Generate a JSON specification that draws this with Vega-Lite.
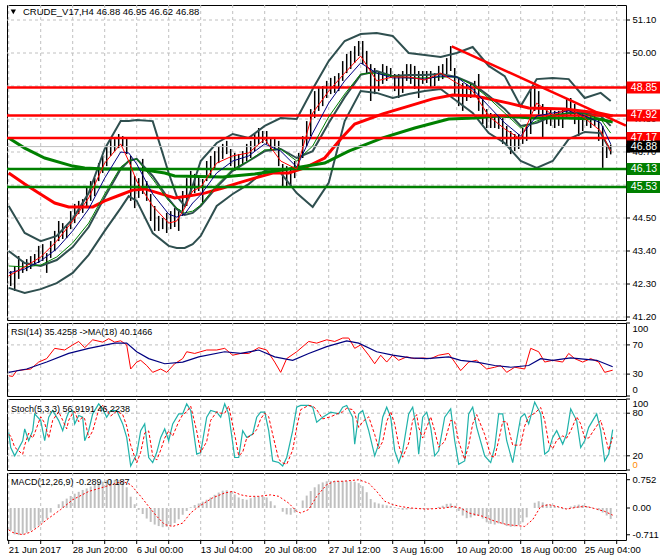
{
"$schema": "https://vega.github.io/schema/vega-lite/v6.json",
"padding": {"left": 2, "top": 4, "right": 2, "bottom": 2},
"background": "white",
"spacing": 3,
"bounds": "flush",
"config": {
  "view": {"stroke": "black", "strokeWidth": 1},
  "font": "Liberation Sans",
  "text": {"font": "Liberation Sans", "fontSize": 9}
},
"datasets": {
  "bars": [
{"b":1,"h":42.73,"l":42.23,"m":-0.6},{"b":3,"h":42.9,"l":42.07,"m":-0.7},{"b":5,"h":43.23,"l":42.47,"m":-0.72},{"b":7,"h":43.07,"l":42.67,"m":-0.7},{"b":9,"h":43.13,"l":42.73,"m":-0.66},{"b":11,"h":43.23,"l":42.8,"m":-0.6},{"b":13,"h":43.3,"l":42.9,"m":-0.54},{"b":15,"h":43.57,"l":43.0,"m":-0.47},{"b":17,"h":43.63,"l":43.07,"m":-0.38},{"b":19,"h":43.33,"l":42.67,"m":-0.28},
{"b":21,"h":43.73,"l":43.17,"m":-0.12},{"b":23,"h":44.07,"l":43.4,"m":0.0},{"b":25,"h":44.4,"l":43.73,"m":0.1},{"b":27,"h":44.33,"l":43.8,"m":0.18},{"b":29,"h":44.23,"l":43.83,"m":0.25},{"b":31,"h":44.73,"l":44.13,"m":0.32},{"b":33,"h":44.97,"l":44.33,"m":0.38},{"b":35,"h":45.07,"l":44.63,"m":0.43},{"b":37,"h":45.13,"l":44.67,"m":0.48},{"b":39,"h":45.57,"l":44.83,"m":0.52},
{"b":41,"h":45.73,"l":45.07,"m":0.57},{"b":43,"h":45.83,"l":45.23,"m":0.61},{"b":45,"h":46.33,"l":45.73,"m":0.65},{"b":47,"h":46.57,"l":46.0,"m":0.7},{"b":49,"h":46.9,"l":46.23,"m":0.74},{"b":51,"h":47.17,"l":46.57,"m":0.75},{"b":53,"h":47.13,"l":46.73,"m":0.75},{"b":55,"h":47.3,"l":46.83,"m":0.74},{"b":57,"h":47.23,"l":46.9,"m":0.71},{"b":59,"h":47.17,"l":46.63,"m":0.55},
{"b":61,"h":46.57,"l":45.07,"m":0.3},{"b":63,"h":45.9,"l":44.83,"m":0.1},{"b":65,"h":45.83,"l":45.17,"m":-0.05},{"b":67,"h":46.47,"l":45.3,"m":-0.16},{"b":69,"h":45.73,"l":45.07,"m":-0.28},{"b":71,"h":45.3,"l":44.4,"m":-0.37},{"b":73,"h":44.9,"l":44.07,"m":-0.44},{"b":75,"h":44.57,"l":44.07,"m":-0.48},{"b":77,"h":44.5,"l":44.13,"m":-0.51},{"b":79,"h":44.67,"l":44.0,"m":-0.5},
{"b":81,"h":44.73,"l":44.13,"m":-0.47},{"b":83,"h":44.83,"l":44.2,"m":-0.4},{"b":85,"h":44.8,"l":44.07,"m":-0.3},{"b":87,"h":45.4,"l":44.57,"m":-0.18},{"b":89,"h":45.83,"l":44.9,"m":-0.08},{"b":91,"h":46.07,"l":45.23,"m":0.02},{"b":93,"h":45.97,"l":45.33,"m":0.08},{"b":95,"h":45.9,"l":45.4,"m":0.12},{"b":97,"h":45.8,"l":44.97,"m":0.17},{"b":99,"h":46.4,"l":45.73,"m":0.22},
{"b":101,"h":46.57,"l":45.9,"m":0.28},{"b":103,"h":46.73,"l":46.13,"m":0.35},{"b":105,"h":46.87,"l":46.33,"m":0.41},{"b":107,"h":46.97,"l":46.47,"m":0.46},{"b":109,"h":47.07,"l":46.63,"m":0.47},{"b":111,"h":46.8,"l":46.23,"m":0.44},{"b":113,"h":46.67,"l":46.07,"m":0.36},{"b":115,"h":46.63,"l":46.17,"m":0.28},{"b":117,"h":46.73,"l":46.3,"m":0.24},{"b":119,"h":46.97,"l":46.4,"m":0.22},
{"b":121,"h":47.07,"l":46.5,"m":0.26},{"b":123,"h":47.3,"l":46.73,"m":0.3},{"b":125,"h":47.5,"l":46.97,"m":0.31},{"b":127,"h":47.4,"l":47.0,"m":0.31},{"b":129,"h":47.4,"l":46.97,"m":0.28},{"b":131,"h":47.17,"l":46.73,"m":0.18},{"b":133,"h":47.13,"l":46.8,"m":0.07},{"b":135,"h":47.07,"l":46.23,"m":0.0},{"b":137,"h":46.3,"l":45.5,"m":-0.1},{"b":139,"h":46.23,"l":45.57,"m":-0.17},
{"b":141,"h":46.17,"l":45.5,"m":-0.18},{"b":143,"h":46.4,"l":45.83,"m":-0.12},{"b":145,"h":46.67,"l":46.07,"m":0.0},{"b":147,"h":47.23,"l":46.5,"m":0.2},{"b":149,"h":47.73,"l":46.9,"m":0.33},{"b":151,"h":48.13,"l":47.23,"m":0.45},{"b":153,"h":48.73,"l":47.83,"m":0.55},{"b":155,"h":48.83,"l":48.07,"m":0.63},{"b":157,"h":48.9,"l":48.23,"m":0.68},{"b":159,"h":49.07,"l":48.5,"m":0.71},
{"b":161,"h":49.17,"l":48.63,"m":0.72},{"b":163,"h":49.23,"l":48.67,"m":0.72},{"b":165,"h":49.33,"l":48.73,"m":0.72},{"b":167,"h":49.73,"l":49.07,"m":0.72},{"b":169,"h":49.97,"l":49.33,"m":0.72},{"b":171,"h":50.07,"l":49.47,"m":0.71},{"b":173,"h":50.23,"l":49.67,"m":0.7},{"b":175,"h":50.4,"l":49.9,"m":0.66},{"b":177,"h":50.4,"l":49.63,"m":0.58},{"b":179,"h":50.07,"l":49.3,"m":0.42},
{"b":181,"h":49.63,"l":48.4,"m":0.24},{"b":183,"h":49.5,"l":48.63,"m":0.15},{"b":185,"h":49.4,"l":48.73,"m":0.12},{"b":187,"h":49.63,"l":48.97,"m":0.09},{"b":189,"h":49.57,"l":49.07,"m":0.07},{"b":191,"h":49.5,"l":49.17,"m":0.05},{"b":193,"h":49.3,"l":48.73,"m":0.02},{"b":195,"h":49.3,"l":48.5,"m":-0.02},{"b":197,"h":49.4,"l":48.67,"m":-0.05},{"b":199,"h":49.63,"l":49.07,"m":-0.04},
{"b":201,"h":49.63,"l":48.97,"m":-0.03},{"b":203,"h":49.57,"l":48.8,"m":-0.01},{"b":205,"h":49.4,"l":48.5,"m":0.0},{"b":207,"h":49.4,"l":48.97,"m":-0.02},{"b":209,"h":49.4,"l":49.0,"m":-0.03},{"b":211,"h":49.4,"l":48.83,"m":-0.02},{"b":213,"h":49.33,"l":48.9,"m":0.0},{"b":215,"h":49.57,"l":49.07,"m":0.03},{"b":217,"h":49.63,"l":49.13,"m":0.06},{"b":219,"h":49.83,"l":49.3,"m":0.11},
{"b":221,"h":50.23,"l":49.4,"m":0.12},{"b":223,"h":49.5,"l":48.63,"m":0.06},{"b":225,"h":49.13,"l":48.23,"m":-0.08},{"b":227,"h":49.0,"l":48.07,"m":-0.2},{"b":229,"h":48.97,"l":48.4,"m":-0.27},{"b":231,"h":49.0,"l":48.5,"m":-0.25},{"b":233,"h":49.07,"l":48.57,"m":-0.21},{"b":235,"h":49.3,"l":48.07,"m":-0.2},{"b":237,"h":48.5,"l":47.63,"m":-0.28},{"b":239,"h":48.13,"l":47.5,"m":-0.38},
{"b":241,"h":48.0,"l":47.5,"m":-0.42},{"b":243,"h":47.97,"l":47.5,"m":-0.44},{"b":245,"h":47.9,"l":47.47,"m":-0.41},{"b":247,"h":47.83,"l":46.97,"m":-0.43},{"b":249,"h":47.57,"l":46.9,"m":-0.48},{"b":251,"h":47.4,"l":46.63,"m":-0.5},{"b":253,"h":47.3,"l":46.73,"m":-0.49},{"b":255,"h":47.3,"l":46.8,"m":-0.46},{"b":257,"h":47.5,"l":46.97,"m":-0.38},{"b":259,"h":47.57,"l":47.07,"m":-0.25},
{"b":261,"h":48.83,"l":47.3,"m":0.0},{"b":263,"h":48.9,"l":48.07,"m":0.14},{"b":265,"h":48.73,"l":47.9,"m":0.18},{"b":267,"h":48.3,"l":47.17,"m":0.15},{"b":269,"h":48.17,"l":47.63,"m":0.1},{"b":271,"h":48.13,"l":47.57,"m":0.07},{"b":273,"h":48.07,"l":47.5,"m":0.05},{"b":275,"h":48.07,"l":47.57,"m":0.02},{"b":277,"h":48.13,"l":47.5,"m":-0.03},{"b":279,"h":48.5,"l":47.83,"m":-0.02},
{"b":281,"h":48.5,"l":47.9,"m":0.04},{"b":283,"h":48.3,"l":47.63,"m":0.07},{"b":285,"h":48.07,"l":47.23,"m":0.09},{"b":287,"h":48.0,"l":47.4,"m":0.08},{"b":289,"h":48.07,"l":47.57,"m":0.05},{"b":291,"h":48.0,"l":47.5,"m":0.02},{"b":293,"h":48.0,"l":47.57,"m":-0.01},{"b":295,"h":47.83,"l":47.07,"m":-0.06},{"b":297,"h":47.57,"l":46.17,"m":-0.12},{"b":299,"h":46.9,"l":46.5,"m":-0.2},
{"b":301,"h":46.95,"l":46.62,"m":-0.29}
  ],
  "lines": [
{"b":0,"u":44.9,"m":43.4,"lo":42.17,"r":42.57,"n":42.67,"g":42.9},
{"b":8,"u":44.0,"m":43.0,"lo":42.0,"r":42.87,"n":42.8,"g":42.87},
{"b":16,"u":43.73,"m":42.9,"lo":42.13,"r":43.2,"n":43.07,"g":42.93},
{"b":24,"u":43.9,"m":43.1,"lo":42.33,"r":43.73,"n":43.47,"g":43.2},
{"b":32,"u":44.47,"m":43.53,"lo":42.67,"r":44.4,"n":44.07,"g":43.67},
{"b":40,"u":45.33,"m":44.2,"lo":43.27,"r":45.17,"n":44.8,"g":44.33},
{"b":48,"u":46.8,"m":45.2,"lo":44.07,"r":46.33,"n":45.83,"g":45.3},
{"b":56,"u":47.73,"m":46.13,"lo":44.83,"r":46.97,"n":46.7,"g":46.2},
{"b":60,"u":47.73,"m":46.4,"lo":45.23,"r":46.4,"n":46.67,"g":46.4},
{"b":64,"u":47.77,"m":46.47,"lo":45.07,"r":45.73,"n":46.3,"g":46.47},
{"b":72,"u":47.73,"m":45.9,"lo":44.0,"r":44.9,"n":45.3,"g":45.8},
{"b":80,"u":46.0,"m":45.13,"lo":43.57,"r":44.33,"n":44.63,"g":45.07},
{"b":84,"u":45.23,"m":44.8,"lo":43.5,"r":44.4,"n":44.53,"g":44.83},
{"b":88,"u":44.9,"m":44.6,"lo":43.5,"r":44.83,"n":44.63,"g":44.67},
{"b":92,"u":45.57,"m":44.67,"lo":43.63,"r":45.4,"n":45.0,"g":44.73},
{"b":96,"u":46.4,"m":44.9,"lo":43.9,"r":45.53,"n":45.27,"g":44.93},
{"b":104,"u":47.0,"m":45.53,"lo":44.9,"r":46.33,"n":46.0,"g":45.6},
{"b":112,"u":47.3,"m":46.07,"lo":45.3,"r":46.57,"n":46.4,"g":46.13},
{"b":120,"u":47.17,"m":46.4,"lo":45.63,"r":46.67,"n":46.57,"g":46.4},
{"b":128,"u":47.57,"m":46.73,"lo":46.07,"r":47.13,"n":46.97,"g":46.77},
{"b":136,"u":47.83,"m":46.8,"lo":46.0,"r":46.4,"n":46.73,"g":46.8},
{"b":144,"u":47.8,"m":46.5,"lo":45.33,"r":46.13,"n":46.2,"g":46.4},
{"b":152,"u":48.8,"m":46.73,"lo":44.87,"r":48.0,"n":47.33,"g":46.9},
{"b":160,"u":49.73,"m":47.67,"lo":45.67,"r":48.73,"n":48.33,"g":47.87},
{"b":168,"u":50.4,"m":48.53,"lo":47.73,"r":49.33,"n":49.07,"g":48.63},
{"b":176,"u":50.63,"m":49.27,"lo":48.73,"r":49.9,"n":49.67,"g":49.3},
{"b":184,"u":50.67,"m":49.4,"lo":48.67,"r":49.07,"n":49.33,"g":49.33},
{"b":192,"u":50.57,"m":49.23,"lo":48.5,"r":49.2,"n":49.17,"g":49.23},
{"b":200,"u":50.0,"m":49.27,"lo":48.63,"r":49.2,"n":49.17,"g":49.17},
{"b":208,"u":49.93,"m":49.27,"lo":48.73,"r":49.1,"n":49.13,"g":49.17},
{"b":216,"u":49.87,"m":49.3,"lo":48.8,"r":49.33,"n":49.23,"g":49.2},
{"b":224,"u":50.0,"m":49.2,"lo":48.4,"r":49.0,"n":49.2,"g":49.2},
{"b":232,"u":50.2,"m":48.97,"lo":48.0,"r":48.73,"n":48.8,"g":48.93},
{"b":240,"u":49.57,"m":48.57,"lo":47.33,"r":47.9,"n":48.23,"g":48.5},
{"b":248,"u":49.23,"m":48.13,"lo":47.0,"r":47.47,"n":47.67,"g":48.0},
{"b":256,"u":48.23,"m":47.57,"lo":46.4,"r":47.13,"n":47.23,"g":47.5},
{"b":264,"u":49.13,"m":47.67,"lo":46.17,"r":48.33,"n":47.9,"g":47.73},
{"b":272,"u":49.17,"m":47.9,"lo":46.4,"r":47.93,"n":48.0,"g":47.93},
{"b":280,"u":49.13,"m":48.0,"lo":47.13,"r":48.13,"n":48.07,"g":48.0},
{"b":288,"u":48.5,"m":48.0,"lo":47.37,"r":47.83,"n":47.9,"g":47.97},
{"b":296,"u":48.67,"m":47.9,"lo":47.33,"r":47.4,"n":47.67,"g":47.8},
{"b":301,"u":48.4,"m":47.57,"lo":46.73,"r":46.73,"n":46.97,"g":47.33}
  ],
  "redma": [
{"b":0,"p":46.0},{"b":8,"p":45.63},{"b":15,"p":45.33},{"b":23,"p":45.0},{"b":30,"p":44.87},{"b":42,"p":44.87},{"b":48,"p":45.07},{"b":57,"p":45.3},{"b":62,"p":45.43},{"b":68,"p":45.47},{"b":75,"p":45.33},{"b":83,"p":45.17},{"b":90,"p":45.23},{"b":98,"p":45.33},{"b":107,"p":45.5},{"b":115,"p":45.67},{"b":123,"p":45.83},{"b":132,"p":46.0},{"b":140,"p":46.0},{"b":148,"p":46.17},{"b":158,"p":46.5},{"b":166,"p":47.13},{"b":173,"p":47.63},{"b":187,"p":47.97},{"b":200,"p":48.23},{"b":212,"p":48.47},{"b":222,"p":48.6},{"b":233,"p":48.57},{"b":238,"p":48.5},{"b":250,"p":48.33},{"b":260,"p":48.17},{"b":278,"p":48.13},{"b":295,"p":48.0},{"b":302,"p":47.9}
  ],
  "greenma": [
{"b":0,"p":47.17},{"b":8,"p":46.83},{"b":18,"p":46.5},{"b":32,"p":46.23},{"b":38,"p":46.17},{"b":48,"p":46.13},{"b":65,"p":46.13},{"b":78,"p":46.0},{"b":83,"p":45.9},{"b":107,"p":45.87},{"b":123,"p":45.97},{"b":140,"p":46.13},{"b":158,"p":46.33},{"b":170,"p":46.73},{"b":187,"p":47.17},{"b":203,"p":47.5},{"b":220,"p":47.8},{"b":233,"p":47.83},{"b":245,"p":47.9},{"b":262,"p":47.83},{"b":278,"p":47.83},{"b":295,"p":47.8},{"b":302,"p":47.7}
  ],
  "hlines": [
{"p":48.85,"kind":"res"},{"p":47.92,"kind":"res"},{"p":47.17,"kind":"res"},{"p":46.13,"kind":"sup"},{"p":45.53,"kind":"sup"}
  ],
  "boxes": [
{"p":48.85,"kind":"res"},{"p":47.92,"kind":"res"},{"p":47.17,"kind":"res"},{"p":46.13,"kind":"sup"},{"p":45.53,"kind":"sup"},{"p":46.88,"kind":"cur"}
  ],
  "pticks": [{"v":41.2},{"v":42.3},{"v":43.4},{"v":44.5},{"v":45.6},{"v":46.7},{"v":47.8},{"v":48.9},{"v":50.0},{"v":51.1}],
  "plabels": [{"v":41.2},{"v":42.3},{"v":43.4},{"v":44.5},{"v":46.7},{"v":47.8},{"v":50.0},{"v":51.1}],
  "tgrid": [{"b":0},{"b":16},{"b":32},{"b":48},{"b":64},{"b":80},{"b":96},{"b":112},{"b":128},{"b":144},{"b":160},{"b":176},{"b":192},{"b":208},{"b":224},{"b":240},{"b":256},{"b":272},{"b":288},{"b":304}],
  "tlabels": [{"b":0,"t":"21 Jun 2017"},{"b":32,"t":"28 Jun 20:00"},{"b":64,"t":"6 Jul 00:00"},{"b":96,"t":"13 Jul 04:00"},{"b":128,"t":"20 Jul 08:00"},{"b":160,"t":"27 Jul 12:00"},{"b":192,"t":"3 Aug 16:00"},{"b":224,"t":"10 Aug 20:00"},{"b":256,"t":"18 Aug 00:00"},{"b":288,"t":"25 Aug 04:00"}],
  "trend": [{"b":221.5,"p":50.22},{"b":308.6,"p":47.58}],
  "rsi": [
{"b":0,"v":27.7},{"b":2,"v":26.8},{"b":4,"v":34.8},{"b":11,"v":37},{"b":15,"v":46.5},{"b":19,"v":51.2},{"b":23,"v":65.3},{"b":28,"v":63},{"b":32,"v":70},{"b":35,"v":74.7},{"b":38,"v":66.2},{"b":42,"v":77},{"b":47,"v":73.8},{"b":50,"v":78.5},{"b":53,"v":73.8},{"b":56,"v":75.6},{"b":59,"v":70},{"b":61,"v":37},{"b":64,"v":46.5},{"b":66,"v":48.9},{"b":69,"v":41.8},{"b":72,"v":32.4},{"b":76,"v":37},{"b":79,"v":32.4},{"b":83,"v":44.2},{"b":87,"v":51.2},{"b":89,"v":60.6},{"b":93,"v":58.3},{"b":99,"v":63},{"b":104,"v":63},{"b":108,"v":65.3},{"b":112,"v":55.9},{"b":116,"v":58.3},{"b":120,"v":58.3},{"b":125,"v":66.2},{"b":129,"v":63},{"b":133,"v":46.5},{"b":136,"v":32.4},{"b":139,"v":51.2},{"b":144,"v":60.6},{"b":150,"v":74.7},{"b":154,"v":72.4},{"b":159,"v":77},{"b":163,"v":74.7},{"b":167,"v":79.4},{"b":170,"v":79.4},{"b":173,"v":65.3},{"b":176,"v":70},{"b":180,"v":55.9},{"b":183,"v":44.2},{"b":186,"v":55.9},{"b":189,"v":46.5},{"b":192,"v":55.9},{"b":195,"v":48.9},{"b":199,"v":53.6},{"b":203,"v":51.2},{"b":207,"v":52.1},{"b":211,"v":51.2},{"b":215,"v":55.9},{"b":220,"v":58.3},{"b":223,"v":46.5},{"b":226,"v":34.8},{"b":230,"v":46.5},{"b":234,"v":48.9},{"b":239,"v":37},{"b":243,"v":39.4},{"b":246,"v":41.8},{"b":249,"v":32.4},{"b":253,"v":39.4},{"b":258,"v":37},{"b":261,"v":65.3},{"b":265,"v":60.6},{"b":268,"v":46.5},{"b":272,"v":48.9},{"b":277,"v":46.5},{"b":280,"v":58.3},{"b":283,"v":51.2},{"b":287,"v":46.5},{"b":291,"v":51.2},{"b":295,"v":46.5},{"b":298,"v":32.4},{"b":302,"v":35.4}
  ],
  "rsima": [
{"b":0,"v":32.4},{"b":9,"v":37},{"b":19,"v":46.5},{"b":30,"v":58.3},{"b":40,"v":65.3},{"b":53,"v":72.4},{"b":59,"v":72.4},{"b":64,"v":60.6},{"b":70,"v":51.2},{"b":78,"v":44.2},{"b":87,"v":46.5},{"b":95,"v":53.6},{"b":108,"v":60.6},{"b":116,"v":58.3},{"b":125,"v":63},{"b":133,"v":53.6},{"b":142,"v":48.9},{"b":150,"v":58.3},{"b":159,"v":67.6},{"b":169,"v":75.6},{"b":175,"v":72.4},{"b":184,"v":60.6},{"b":192,"v":55.9},{"b":201,"v":52.1},{"b":209,"v":51.2},{"b":220,"v":53.6},{"b":226,"v":48.9},{"b":234,"v":46.5},{"b":243,"v":41.8},{"b":251,"v":39.4},{"b":260,"v":41.8},{"b":266,"v":51.2},{"b":272,"v":48.9},{"b":281,"v":52.1},{"b":294,"v":48.9},{"b":302,"v":40.1}
  ],
  "stoch": [
{"b":0,"k":53.0,"d":50},{"b":1,"k":31.7,"d":48},{"b":3,"k":19.9,"d":32},{"b":7,"k":41.2,"d":22},{"b":8,"k":57.8,"d":35},{"b":10,"k":41.2,"d":52},{"b":12,"k":55.4,"d":45},{"b":13,"k":79.1,"d":52},{"b":16,"k":69.6,"d":75},{"b":18,"k":41.2,"d":66},{"b":20,"k":74.3,"d":45},{"b":22,"k":83.8,"d":70},{"b":25,"k":69.6,"d":82},{"b":27,"k":55.4,"d":70},{"b":29,"k":74.3,"d":58},{"b":30,"k":81.4,"d":70},{"b":32,"k":83.8,"d":80},{"b":33,"k":64.9,"d":82},{"b":35,"k":76.7,"d":68},{"b":37,"k":74.3,"d":75},{"b":38,"k":41.2,"d":72},{"b":40,"k":55.4,"d":45},{"b":42,"k":79.1,"d":55},{"b":45,"k":93.2,"d":85},{"b":47,"k":86.1,"d":91},{"b":49,"k":74.3,"d":84},{"b":51,"k":83.8,"d":76},{"b":54,"k":83.8,"d":83},{"b":57,"k":64.9,"d":78},{"b":59,"k":45.9,"d":62},{"b":61,"k":5.7,"d":35},{"b":64,"k":22.3,"d":10},{"b":66,"k":55.4,"d":25},{"b":68,"k":64.9,"d":52},{"b":70,"k":17.6,"d":55},{"b":72,"k":10.5,"d":20},{"b":74,"k":24.6,"d":14},{"b":76,"k":45.9,"d":28},{"b":78,"k":57.8,"d":45},{"b":80,"k":41.2,"d":55},{"b":82,"k":64.9,"d":48},{"b":85,"k":79.1,"d":68},{"b":87,"k":79.1,"d":78},{"b":89,"k":93.2,"d":82},{"b":91,"k":83.8,"d":90},{"b":94,"k":22.3,"d":55},{"b":96,"k":24.6,"d":25},{"b":99,"k":74.3,"d":40},{"b":101,"k":83.8,"d":70},{"b":104,"k":81.4,"d":82},{"b":106,"k":74.3,"d":80},{"b":108,"k":93.2,"d":80},{"b":110,"k":79.1,"d":90},{"b":113,"k":17.6,"d":50},{"b":115,"k":17.6,"d":20},{"b":117,"k":55.4,"d":25},{"b":119,"k":45.9,"d":45},{"b":122,"k":50.7,"d":50},{"b":124,"k":74.3,"d":57},{"b":126,"k":81.4,"d":72},{"b":128,"k":81.4,"d":80},{"b":130,"k":55.4,"d":75},{"b":132,"k":12.8,"d":50},{"b":135,"k":10.5,"d":15},{"b":137,"k":5.7,"d":10},{"b":139,"k":17.6,"d":8},{"b":142,"k":55.4,"d":28},{"b":144,"k":88.5,"d":60},{"b":146,"k":90.9,"d":85},{"b":150,"k":90.9,"d":91},{"b":152,"k":88.5,"d":90},{"b":154,"k":67.2,"d":85},{"b":157,"k":74.3,"d":72},{"b":161,"k":81.4,"d":75},{"b":165,"k":79.1,"d":80},{"b":167,"k":88.5,"d":82},{"b":169,"k":90.9,"d":87},{"b":172,"k":74.3,"d":85},{"b":173,"k":36.5,"d":80},{"b":175,"k":79.1,"d":60},{"b":177,"k":83.8,"d":68},{"b":180,"k":55.4,"d":75},{"b":183,"k":19.9,"d":50},{"b":185,"k":36.5,"d":30},{"b":187,"k":74.3,"d":40},{"b":189,"k":88.5,"d":68},{"b":191,"k":74.3,"d":82},{"b":193,"k":27.0,"d":65},{"b":195,"k":10.5,"d":35},{"b":197,"k":27.0,"d":18},{"b":200,"k":79.1,"d":38},{"b":202,"k":88.5,"d":70},{"b":204,"k":55.4,"d":78},{"b":205,"k":22.3,"d":60},{"b":207,"k":74.3,"d":45},{"b":209,"k":81.4,"d":60},{"b":211,"k":60.1,"d":75},{"b":213,"k":19.9,"d":55},{"b":215,"k":27.0,"d":32},{"b":218,"k":74.3,"d":40},{"b":221,"k":86.1,"d":70},{"b":223,"k":41.2,"d":68},{"b":225,"k":8.1,"d":40},{"b":228,"k":12.8,"d":15},{"b":230,"k":79.1,"d":35},{"b":232,"k":88.5,"d":65},{"b":234,"k":60.1,"d":78},{"b":238,"k":19.9,"d":50},{"b":241,"k":10.5,"d":20},{"b":243,"k":31.7,"d":18},{"b":245,"k":79.1,"d":42},{"b":247,"k":79.1,"d":68},{"b":249,"k":41.2,"d":68},{"b":252,"k":10.5,"d":35},{"b":256,"k":74.3,"d":35},{"b":258,"k":79.1,"d":62},{"b":260,"k":64.9,"d":75},{"b":263,"k":95.6,"d":80},{"b":266,"k":79.1,"d":88},{"b":268,"k":22.3,"d":70},{"b":270,"k":27.0,"d":38},{"b":272,"k":45.9,"d":30},{"b":274,"k":55.4,"d":42},{"b":277,"k":36.5,"d":48},{"b":279,"k":50.7,"d":45},{"b":281,"k":86.1,"d":55},{"b":284,"k":69.6,"d":75},{"b":286,"k":31.7,"d":65},{"b":288,"k":41.2,"d":45},{"b":290,"k":60.1,"d":45},{"b":294,"k":79.1,"d":62},{"b":296,"k":55.4,"d":70},{"b":298,"k":12.8,"d":50},{"b":300,"k":22.3,"d":28},{"b":302,"k":56.9,"d":46.2}
  ],
  "signal": [
{"b":0,"v":-0.58},{"b":2,"v":-0.65},{"b":7,"v":-0.71},{"b":11,"v":-0.64},{"b":15,"v":-0.49},{"b":19,"v":-0.31},{"b":26,"v":-0.04},{"b":32,"v":0.22},{"b":40,"v":0.44},{"b":49,"v":0.58},{"b":57,"v":0.71},{"b":61,"v":0.62},{"b":66,"v":0.31},{"b":70,"v":0.04},{"b":74,"v":-0.22},{"b":78,"v":-0.44},{"b":82,"v":-0.49},{"b":87,"v":-0.4},{"b":91,"v":-0.13},{"b":95,"v":0.04},{"b":102,"v":0.27},{"b":108,"v":0.4},{"b":112,"v":0.44},{"b":116,"v":0.35},{"b":120,"v":0.31},{"b":125,"v":0.31},{"b":131,"v":0.35},{"b":135,"v":0.31},{"b":140,"v":0.13},{"b":144,"v":-0.09},{"b":146,"v":-0.13},{"b":150,"v":-0.04},{"b":154,"v":0.31},{"b":159,"v":0.62},{"b":163,"v":0.71},{"b":167,"v":0.71},{"b":175,"v":0.75},{"b":180,"v":0.66},{"b":184,"v":0.44},{"b":188,"v":0.18},{"b":192,"v":0.09},{"b":196,"v":0.04},{"b":201,"v":0.0},{"b":209,"v":-0.03},{"b":218,"v":0.0},{"b":222,"v":0.04},{"b":226,"v":0.0},{"b":230,"v":-0.13},{"b":237,"v":-0.22},{"b":243,"v":-0.35},{"b":249,"v":-0.44},{"b":258,"v":-0.49},{"b":262,"v":-0.31},{"b":266,"v":0.04},{"b":270,"v":0.09},{"b":275,"v":0.03},{"b":279,"v":-0.03},{"b":285,"v":0.03},{"b":289,"v":0.04},{"b":294,"v":-0.03},{"b":298,"v":-0.09},{"b":302,"v":-0.19}
  ]
},
"vconcat": [
{
  "width": 619, "height": 315,
  "layer": [
    {"data": {"name": "pticks"}, "mark": {"type": "rule", "color": "#C0C0C0", "strokeDash": [3, 3], "strokeWidth": 1},
     "encoding": {"y": {"field": "v", "type": "quantitative", "scale": {"domain": [41.1, 51.6], "nice": false, "zero": false}, "axis": null}}},
    {"data": {"name": "tgrid"}, "mark": {"type": "rule", "color": "#C0C0C0", "strokeDash": [3, 3], "strokeWidth": 1},
     "encoding": {"x": {"field": "b", "type": "quantitative", "scale": {"domain": [-0.85, 308.65], "nice": false, "zero": false}, "axis": null}}},
    {"data": {"name": "bars"}, "mark": {"type": "rule", "color": "black", "strokeWidth": 1.5},
     "encoding": {
       "x": {"field": "b", "type": "quantitative", "scale": {"domain": [-0.85, 308.65], "nice": false, "zero": false}, "axis": null},
       "y": {"field": "l", "type": "quantitative", "scale": {"domain": [41.1, 51.6], "nice": false, "zero": false}, "axis": null},
       "y2": {"field": "h"}
     }},
    {"data": {"name": "lines"}, "mark": {"type": "line", "color": "#2F4F4F", "strokeWidth": 2},
     "encoding": {"x": {"field": "b", "type": "quantitative", "scale": {"domain": [-0.85, 308.65], "nice": false, "zero": false}, "axis": null},
                  "y": {"field": "u", "type": "quantitative", "scale": {"domain": [41.1, 51.6], "nice": false, "zero": false}, "axis": null}}},
    {"data": {"name": "lines"}, "mark": {"type": "line", "color": "#2F4F4F", "strokeWidth": 2},
     "encoding": {"x": {"field": "b", "type": "quantitative", "scale": {"domain": [-0.85, 308.65], "nice": false, "zero": false}, "axis": null},
                  "y": {"field": "m", "type": "quantitative", "scale": {"domain": [41.1, 51.6], "nice": false, "zero": false}, "axis": null}}},
    {"data": {"name": "lines"}, "mark": {"type": "line", "color": "#2F4F4F", "strokeWidth": 2},
     "encoding": {"x": {"field": "b", "type": "quantitative", "scale": {"domain": [-0.85, 308.65], "nice": false, "zero": false}, "axis": null},
                  "y": {"field": "lo", "type": "quantitative", "scale": {"domain": [41.1, 51.6], "nice": false, "zero": false}, "axis": null}}},
    {"data": {"name": "redma"}, "mark": {"type": "line", "color": "#FF0000", "strokeWidth": 3},
     "encoding": {"x": {"field": "b", "type": "quantitative", "scale": {"domain": [-0.85, 308.65], "nice": false, "zero": false}, "axis": null},
                  "y": {"field": "p", "type": "quantitative", "scale": {"domain": [41.1, 51.6], "nice": false, "zero": false}, "axis": null}}},
    {"data": {"name": "greenma"}, "mark": {"type": "line", "color": "#008000", "strokeWidth": 3},
     "encoding": {"x": {"field": "b", "type": "quantitative", "scale": {"domain": [-0.85, 308.65], "nice": false, "zero": false}, "axis": null},
                  "y": {"field": "p", "type": "quantitative", "scale": {"domain": [41.1, 51.6], "nice": false, "zero": false}, "axis": null}}},
    {"data": {"name": "hlines"}, "mark": {"type": "rule", "strokeWidth": 2.5},
     "encoding": {"y": {"field": "p", "type": "quantitative", "scale": {"domain": [41.1, 51.6], "nice": false, "zero": false}, "axis": null},
                  "color": {"field": "kind", "type": "nominal", "scale": {"domain": ["res","sup","cur"], "range": ["#FF0000","#008000","#000000"]}, "legend": null}}},
    {"data": {"values": [{"p": 46.88}]}, "mark": {"type": "rule", "color": "#C0C0C0", "strokeWidth": 1},
     "encoding": {"y": {"field": "p", "type": "quantitative", "scale": {"domain": [41.1, 51.6], "nice": false, "zero": false}, "axis": null}}},
    {"data": {"name": "lines"}, "mark": {"type": "line", "color": "#008000", "strokeWidth": 1},
     "encoding": {"x": {"field": "b", "type": "quantitative", "scale": {"domain": [-0.85, 308.65], "nice": false, "zero": false}, "axis": null},
                  "y": {"field": "g", "type": "quantitative", "scale": {"domain": [41.1, 51.6], "nice": false, "zero": false}, "axis": null}}},
    {"data": {"name": "lines"}, "mark": {"type": "line", "color": "#000080", "strokeWidth": 1},
     "encoding": {"x": {"field": "b", "type": "quantitative", "scale": {"domain": [-0.85, 308.65], "nice": false, "zero": false}, "axis": null},
                  "y": {"field": "n", "type": "quantitative", "scale": {"domain": [41.1, 51.6], "nice": false, "zero": false}, "axis": null}}},
    {"data": {"name": "lines"}, "mark": {"type": "line", "color": "#FF0000", "strokeWidth": 1},
     "encoding": {"x": {"field": "b", "type": "quantitative", "scale": {"domain": [-0.85, 308.65], "nice": false, "zero": false}, "axis": null},
                  "y": {"field": "r", "type": "quantitative", "scale": {"domain": [41.1, 51.6], "nice": false, "zero": false}, "axis": null}}},
    {"data": {"name": "trend"}, "mark": {"type": "line", "color": "#FF0000", "strokeWidth": 2.5},
     "encoding": {"x": {"field": "b", "type": "quantitative", "scale": {"domain": [-0.85, 308.65], "nice": false, "zero": false}, "axis": null},
                  "y": {"field": "p", "type": "quantitative", "scale": {"domain": [41.1, 51.6], "nice": false, "zero": false}, "axis": null}}},
    {"data": {"name": "pticks"}, "mark": {"type": "tick", "orient": "horizontal", "size": 4, "thickness": 1, "color": "black", "opacity": 1},
     "encoding": {"x": {"datum": 309.65, "type": "quantitative", "scale": {"domain": [-0.85, 308.65], "nice": false, "zero": false}, "axis": null},
                  "y": {"field": "v", "type": "quantitative", "scale": {"domain": [41.1, 51.6], "nice": false, "zero": false}, "axis": null}}},
    {"data": {"name": "plabels"}, "mark": {"type": "text", "color": "black", "align": "left", "baseline": "middle", "fontSize": 9.5},
     "encoding": {"x": {"datum": 311.9, "type": "quantitative", "scale": {"domain": [-0.85, 308.65], "nice": false, "zero": false}, "axis": null},
                  "y": {"field": "v", "type": "quantitative", "scale": {"domain": [41.1, 51.6], "nice": false, "zero": false}, "axis": null},
                  "text": {"field": "v", "type": "quantitative", "format": ".2f"}}},
    {"data": {"name": "boxes"}, "mark": {"type": "tick", "orient": "horizontal", "size": 35, "thickness": 12, "opacity": 1},
     "encoding": {"x": {"datum": 317.65, "type": "quantitative", "scale": {"domain": [-0.85, 308.65], "nice": false, "zero": false}, "axis": null},
                  "y": {"field": "p", "type": "quantitative", "scale": {"domain": [41.1, 51.6], "nice": false, "zero": false}, "axis": null},
                  "color": {"field": "kind", "type": "nominal", "scale": {"domain": ["res","sup","cur"], "range": ["#FF0000","#008000","#000000"]}, "legend": null}}},
    {"data": {"name": "boxes"}, "mark": {"type": "text", "color": "white", "align": "center", "baseline": "middle", "fontSize": 10.5},
     "encoding": {"x": {"datum": 317.65, "type": "quantitative", "scale": {"domain": [-0.85, 308.65], "nice": false, "zero": false}, "axis": null},
                  "y": {"field": "p", "type": "quantitative", "scale": {"domain": [41.1, 51.6], "nice": false, "zero": false}, "axis": null},
                  "text": {"field": "p", "type": "quantitative", "format": ".2f"}}},
    {"data": {"values": [{"t": "CRUDE_V17,H4  46.88 46.95 46.62 46.88"}]}, "mark": {"type": "text", "color": "black", "align": "left", "baseline": "middle", "fontSize": 9.5},
     "encoding": {"x": {"datum": 7.15, "type": "quantitative", "scale": {"domain": [-0.85, 308.65], "nice": false, "zero": false}, "axis": null},
                  "y": {"datum": 51.37, "type": "quantitative", "scale": {"domain": [41.1, 51.6], "nice": false, "zero": false}, "axis": null},
                  "text": {"field": "t"}}},
    {"data": {"values": [{"t": "v"}]}, "mark": {"type": "point", "shape": "triangle-down", "filled": true, "color": "black", "size": 28, "opacity": 1},
     "encoding": {"x": {"datum": 2.3, "type": "quantitative", "scale": {"domain": [-0.85, 308.65], "nice": false, "zero": false}, "axis": null},
                  "y": {"datum": 51.37, "type": "quantitative", "scale": {"domain": [41.1, 51.6], "nice": false, "zero": false}, "axis": null}}}
  ]
},
{
  "width": 619, "height": 73,
  "layer": [
    {"data": {"values": [{"v": 30}, {"v": 70}]}, "mark": {"type": "rule", "color": "#C0C0C0", "strokeDash": [3, 3], "strokeWidth": 1},
     "encoding": {"y": {"field": "v", "type": "quantitative", "scale": {"domain": [0, 100], "nice": false, "zero": false}, "axis": null}}},
    {"data": {"name": "tgrid"}, "mark": {"type": "rule", "color": "#C0C0C0", "strokeDash": [3, 3], "strokeWidth": 1},
     "encoding": {"x": {"field": "b", "type": "quantitative", "scale": {"domain": [-0.85, 308.65], "nice": false, "zero": false}, "axis": null}}},
    {"data": {"name": "rsi"}, "mark": {"type": "line", "color": "#FF0000", "strokeWidth": 1},
     "encoding": {"x": {"field": "b", "type": "quantitative", "scale": {"domain": [-0.85, 308.65], "nice": false, "zero": false}, "axis": null},
                  "y": {"field": "v", "type": "quantitative", "scale": {"domain": [0, 100], "nice": false, "zero": false}, "axis": null}}},
    {"data": {"name": "rsima"}, "mark": {"type": "line", "color": "#000080", "strokeWidth": 1.2},
     "encoding": {"x": {"field": "b", "type": "quantitative", "scale": {"domain": [-0.85, 308.65], "nice": false, "zero": false}, "axis": null},
                  "y": {"field": "v", "type": "quantitative", "scale": {"domain": [0, 100], "nice": false, "zero": false}, "axis": null}}},
    {"data": {"values": [{"v": 0}, {"v": 30}, {"v": 70}, {"v": 100}]}, "mark": {"type": "tick", "orient": "horizontal", "size": 4, "thickness": 1, "color": "black", "opacity": 1},
     "encoding": {"x": {"datum": 309.65, "type": "quantitative", "scale": {"domain": [-0.85, 308.65], "nice": false, "zero": false}, "axis": null},
                  "y": {"field": "v", "type": "quantitative", "scale": {"domain": [0, 100], "nice": false, "zero": false}, "axis": null}}},
    {"data": {"values": [{"v": 30}, {"v": 70}]}, "mark": {"type": "text", "color": "black", "align": "left", "baseline": "middle", "fontSize": 9.5},
     "encoding": {"x": {"datum": 311.9, "type": "quantitative", "scale": {"domain": [-0.85, 308.65], "nice": false, "zero": false}, "axis": null},
                  "y": {"field": "v", "type": "quantitative", "scale": {"domain": [0, 100], "nice": false, "zero": false}, "axis": null},
                  "text": {"field": "v", "type": "quantitative"}}},
    {"data": {"values": [{"v": 100}]}, "mark": {"type": "text", "color": "black", "align": "left", "baseline": "top", "fontSize": 9.5, "dy": 1},
     "encoding": {"x": {"datum": 311.9, "type": "quantitative", "scale": {"domain": [-0.85, 308.65], "nice": false, "zero": false}, "axis": null},
                  "y": {"field": "v", "type": "quantitative", "scale": {"domain": [0, 100], "nice": false, "zero": false}, "axis": null},
                  "text": {"field": "v", "type": "quantitative"}}},
    {"data": {"values": [{"v": 0}]}, "mark": {"type": "text", "color": "black", "align": "left", "baseline": "bottom", "fontSize": 9.5, "dy": -1},
     "encoding": {"x": {"datum": 311.9, "type": "quantitative", "scale": {"domain": [-0.85, 308.65], "nice": false, "zero": false}, "axis": null},
                  "y": {"field": "v", "type": "quantitative", "scale": {"domain": [0, 100], "nice": false, "zero": false}, "axis": null},
                  "text": {"field": "v", "type": "quantitative"}}},
    {"data": {"values": [{"t": "RSI(14) 35.4258  ->MA(18) 40.1466"}]}, "mark": {"type": "text", "color": "black", "align": "left", "baseline": "middle", "fontSize": 9},
     "encoding": {"x": {"datum": 1.15, "type": "quantitative", "scale": {"domain": [-0.85, 308.65], "nice": false, "zero": false}, "axis": null},
                  "y": {"datum": 87.7, "type": "quantitative", "scale": {"domain": [0, 100], "nice": false, "zero": false}, "axis": null},
                  "text": {"field": "t"}}}
  ]
},
{
  "width": 619, "height": 71,
  "layer": [
    {"data": {"values": [{"v": 20}, {"v": 80}]}, "mark": {"type": "rule", "color": "#C0C0C0", "strokeDash": [3, 3], "strokeWidth": 1},
     "encoding": {"y": {"field": "v", "type": "quantitative", "scale": {"domain": [0, 100], "nice": false, "zero": false}, "axis": null}}},
    {"data": {"name": "tgrid"}, "mark": {"type": "rule", "color": "#C0C0C0", "strokeDash": [3, 3], "strokeWidth": 1},
     "encoding": {"x": {"field": "b", "type": "quantitative", "scale": {"domain": [-0.85, 308.65], "nice": false, "zero": false}, "axis": null}}},
    {"data": {"name": "stoch"}, "mark": {"type": "line", "color": "#20B2AA", "strokeWidth": 1.2},
     "encoding": {"x": {"field": "b", "type": "quantitative", "scale": {"domain": [-0.85, 308.65], "nice": false, "zero": false}, "axis": null},
                  "y": {"field": "k", "type": "quantitative", "scale": {"domain": [0, 100], "nice": false, "zero": false}, "axis": null}}},
    {"data": {"name": "stoch"}, "mark": {"type": "line", "color": "#FF0000", "strokeWidth": 1, "strokeDash": [3, 2]},
     "encoding": {"x": {"field": "b", "type": "quantitative", "scale": {"domain": [-0.85, 308.65], "nice": false, "zero": false}, "axis": null},
                  "y": {"field": "d", "type": "quantitative", "scale": {"domain": [0, 100], "nice": false, "zero": false}, "axis": null}}},
    {"data": {"values": [{"v": 0}, {"v": 20}, {"v": 80}, {"v": 100}]}, "mark": {"type": "tick", "orient": "horizontal", "size": 4, "thickness": 1, "color": "black", "opacity": 1},
     "encoding": {"x": {"datum": 309.65, "type": "quantitative", "scale": {"domain": [-0.85, 308.65], "nice": false, "zero": false}, "axis": null},
                  "y": {"field": "v", "type": "quantitative", "scale": {"domain": [0, 100], "nice": false, "zero": false}, "axis": null}}},
    {"data": {"values": [{"v": 20}, {"v": 80}]}, "mark": {"type": "text", "color": "black", "align": "left", "baseline": "middle", "fontSize": 9.5},
     "encoding": {"x": {"datum": 311.9, "type": "quantitative", "scale": {"domain": [-0.85, 308.65], "nice": false, "zero": false}, "axis": null},
                  "y": {"field": "v", "type": "quantitative", "scale": {"domain": [0, 100], "nice": false, "zero": false}, "axis": null},
                  "text": {"field": "v", "type": "quantitative"}}},
    {"data": {"values": [{"v": 100}]}, "mark": {"type": "text", "color": "black", "align": "left", "baseline": "top", "fontSize": 9.5, "dy": 0},
     "encoding": {"x": {"datum": 311.9, "type": "quantitative", "scale": {"domain": [-0.85, 308.65], "nice": false, "zero": false}, "axis": null},
                  "y": {"field": "v", "type": "quantitative", "scale": {"domain": [0, 100], "nice": false, "zero": false}, "axis": null},
                  "text": {"field": "v", "type": "quantitative"}}},
    {"data": {"values": [{"v": 0}]}, "mark": {"type": "text", "color": "#FF8C00", "align": "left", "baseline": "bottom", "fontSize": 9.5, "dy": 0},
     "encoding": {"x": {"datum": 311.9, "type": "quantitative", "scale": {"domain": [-0.85, 308.65], "nice": false, "zero": false}, "axis": null},
                  "y": {"field": "v", "type": "quantitative", "scale": {"domain": [0, 100], "nice": false, "zero": false}, "axis": null},
                  "text": {"field": "v", "type": "quantitative"}}},
    {"data": {"values": [{"t": "Stoch(5,3,3) 56.9191 46.2238"}]}, "mark": {"type": "text", "color": "black", "align": "left", "baseline": "middle", "fontSize": 9},
     "encoding": {"x": {"datum": 1.15, "type": "quantitative", "scale": {"domain": [-0.85, 308.65], "nice": false, "zero": false}, "axis": null},
                  "y": {"datum": 86, "type": "quantitative", "scale": {"domain": [0, 100], "nice": false, "zero": false}, "axis": null},
                  "text": {"field": "t"}}}
  ]
},
{
  "width": 619, "height": 67,
  "layer": [
    {"data": {"name": "tgrid"}, "mark": {"type": "rule", "color": "#C0C0C0", "strokeDash": [3, 3], "strokeWidth": 1},
     "encoding": {"x": {"field": "b", "type": "quantitative", "scale": {"domain": [-0.85, 308.65], "nice": false, "zero": false}, "axis": null}}},
    {"data": {"name": "bars"}, "mark": {"type": "rule", "color": "#C0C0C0", "strokeWidth": 2},
     "encoding": {
       "x": {"field": "b", "type": "quantitative", "scale": {"domain": [-0.85, 308.65], "nice": false, "zero": false}, "axis": null},
       "y": {"field": "m", "type": "quantitative", "scale": {"domain": [-0.85, 0.93], "nice": false, "zero": false}, "axis": null},
       "y2": {"datum": 0}
     }},
    {"data": {"name": "signal"}, "mark": {"type": "line", "color": "#FF0000", "strokeWidth": 1, "strokeDash": [2, 2]},
     "encoding": {"x": {"field": "b", "type": "quantitative", "scale": {"domain": [-0.85, 308.65], "nice": false, "zero": false}, "axis": null},
                  "y": {"field": "v", "type": "quantitative", "scale": {"domain": [-0.85, 0.93], "nice": false, "zero": false}, "axis": null}}},
    {"data": {"values": [{"v": 0.752, "t": "0.752"}, {"v": 0, "t": "0.00"}, {"v": -0.711, "t": "-0.711"}]}, "mark": {"type": "tick", "orient": "horizontal", "size": 4, "thickness": 1, "color": "black", "opacity": 1},
     "encoding": {"x": {"datum": 309.65, "type": "quantitative", "scale": {"domain": [-0.85, 308.65], "nice": false, "zero": false}, "axis": null},
                  "y": {"field": "v", "type": "quantitative", "scale": {"domain": [-0.85, 0.93], "nice": false, "zero": false}, "axis": null}}},
    {"data": {"values": [{"v": 0.752, "t": "0.752"}, {"v": 0, "t": "0.00"}, {"v": -0.711, "t": "-0.711"}]}, "mark": {"type": "text", "color": "black", "align": "left", "baseline": "middle", "fontSize": 9.5},
     "encoding": {"x": {"datum": 311.9, "type": "quantitative", "scale": {"domain": [-0.85, 308.65], "nice": false, "zero": false}, "axis": null},
                  "y": {"field": "v", "type": "quantitative", "scale": {"domain": [-0.85, 0.93], "nice": false, "zero": false}, "axis": null},
                  "text": {"field": "t"}}},
    {"data": {"name": "tgrid"}, "mark": {"type": "tick", "orient": "vertical", "size": 4, "thickness": 1, "color": "black", "opacity": 1},
     "encoding": {"x": {"field": "b", "type": "quantitative", "scale": {"domain": [-0.85, 308.65], "nice": false, "zero": false}, "axis": null},
                  "y": {"datum": -0.905, "type": "quantitative", "scale": {"domain": [-0.85, 0.93], "nice": false, "zero": false}, "axis": null}}},
    {"data": {"name": "tlabels"}, "mark": {"type": "text", "color": "black", "align": "left", "baseline": "middle", "fontSize": 9.5},
     "encoding": {"x": {"field": "b", "type": "quantitative", "scale": {"domain": [-0.85, 308.65], "nice": false, "zero": false}, "axis": null},
                  "y": {"datum": -1.12, "type": "quantitative", "scale": {"domain": [-0.85, 0.93], "nice": false, "zero": false}, "axis": null},
                  "text": {"field": "t"}}},
    {"data": {"values": [{"t": "MACD(12,26,9) -0.289 -0.187"}]}, "mark": {"type": "text", "color": "black", "align": "left", "baseline": "middle", "fontSize": 9},
     "encoding": {"x": {"datum": 1.15, "type": "quantitative", "scale": {"domain": [-0.85, 308.65], "nice": false, "zero": false}, "axis": null},
                  "y": {"datum": 0.69, "type": "quantitative", "scale": {"domain": [-0.85, 0.93], "nice": false, "zero": false}, "axis": null},
                  "text": {"field": "t"}}}
  ]
}
]
}
